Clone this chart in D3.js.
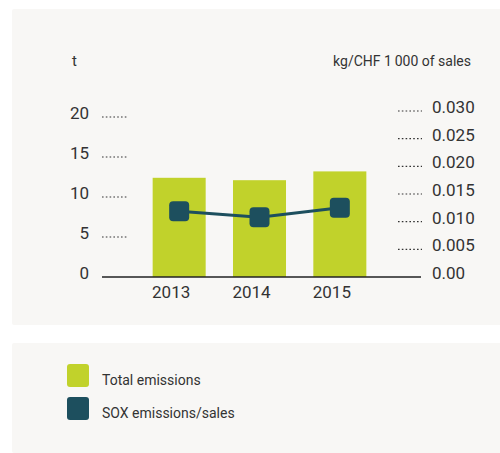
<!DOCTYPE html>
<html>
<head>
<meta charset="utf-8">
<script src="https://cdnjs.cloudflare.com/ajax/libs/d3/7.8.5/d3.min.js"></script>
<style>
  body { margin: 0; background: #ffffff; }
  svg text { font-family: Roboto, "Open Sans", sans-serif; fill: #333333; }
</style>
</head>
<body>
<div id="chart"></div>
<script>
// data
var years = ["2013", "2014", "2015"];
var totalEmissions = [12.4, 12.1, 13.2];        // t
var soxPerSales = [0.0119, 0.0108, 0.0125];     // kg/CHF 1 000 of sales
var leftTicks = [0, 5, 10, 15, 20];
var rightTicks = [0, 0.005, 0.010, 0.015, 0.020, 0.025, 0.030];
var rightTickLabels = ["0.00", "0.005", "0.010", "0.015", "0.020", "0.025", "0.030"];
var legendLabels = ["Total emissions", "SOX emissions/sales"];

var svgWidth = 500;
var svgHeight = 453;
var green = "#c1d22b";
var teal = "#1d4f5e";

var svg = d3.select("#chart")
  .append("svg")
  .attr("width", svgWidth)
  .attr("height", svgHeight);

// panels
svg.append("rect").attr("x", 12).attr("y", 9).attr("width", 500).attr("height", 316)
  .attr("rx", 2).attr("fill", "#f8f7f5");
svg.append("rect").attr("x", 12).attr("y", 343).attr("width", 500).attr("height", 110)
  .attr("rx", 2).attr("fill", "#f8f7f5");

// scales
var x = d3.scaleBand()
  .domain(years)
  .range([139, 380])
  .paddingInner(0.34)
  .paddingOuter(0.17);

var yLeft = d3.scaleLinear().domain([0, 20]).range([277, 117]);
var yRight = d3.scaleLinear().domain([0, 0.030]).range([277, 111]);

// left axis: labels + dotted guides
var leftAxis = svg.append("g");
leftAxis.selectAll("text")
  .data(leftTicks)
  .enter()
  .append("text")
  .attr("x", 89)
  .attr("y", d => yLeft(d) + 2)
  .attr("text-anchor", "end")
  .attr("font-size", "17px")
  .text(d => d);

leftAxis.selectAll("line")
  .data(leftTicks.filter(d => d > 0))
  .enter()
  .append("line")
  .attr("x1", 102)
  .attr("x2", 127)
  .attr("y1", d => yLeft(d))
  .attr("y2", d => yLeft(d))
  .attr("stroke", "#333")
  .attr("stroke-width", 1.2)
  .attr("stroke-dasharray", "1.6,2.2");

// right axis
var rightAxis = svg.append("g");
rightAxis.selectAll("text")
  .data(rightTicks)
  .enter()
  .append("text")
  .attr("x", 432)
  .attr("y", d => yRight(d) + 2)
  .attr("font-size", "17px")
  .text((d, i) => rightTickLabels[i]);

rightAxis.selectAll("line")
  .data(rightTicks.filter(d => d > 0))
  .enter()
  .append("line")
  .attr("x1", 398)
  .attr("x2", 422)
  .attr("y1", d => yRight(d))
  .attr("y2", d => yRight(d))
  .attr("stroke", "#333")
  .attr("stroke-width", 1.2)
  .attr("stroke-dasharray", "1.6,2.2");

// axis titles
svg.append("text").attr("x", 72).attr("y", 66).attr("font-size", "15px").text("t");
svg.append("text").attr("x", 471).attr("y", 66).attr("text-anchor", "end")
  .attr("font-size", "14px").text("kg/CHF 1\u2009000 of sales");

// bars
svg.append("g").selectAll("rect")
  .data(totalEmissions)
  .enter()
  .append("rect")
  .attr("x", (d, i) => x(years[i]))
  .attr("width", x.bandwidth())
  .attr("y", d => yLeft(d))
  .attr("height", d => yLeft(0) - yLeft(d))
  .attr("fill", green);

// baseline
svg.append("line")
  .attr("x1", 102).attr("x2", 421)
  .attr("y1", 277).attr("y2", 277)
  .attr("stroke", "#222").attr("stroke-width", 1.5);

// year labels
svg.append("g").selectAll("text")
  .data(years)
  .enter()
  .append("text")
  .attr("x", d => x(d) + x.bandwidth() / 2 - 8)
  .attr("y", 298)
  .attr("text-anchor", "middle")
  .attr("font-size", "17px")
  .text(d => d);

// line + markers
var line = d3.line()
  .x((d, i) => x(years[i]) + x.bandwidth() / 2)
  .y(d => yRight(d));

svg.append("path")
  .datum(soxPerSales)
  .attr("d", line)
  .attr("fill", "none")
  .attr("stroke", teal)
  .attr("stroke-width", 3);

svg.append("g").selectAll("rect")
  .data(soxPerSales)
  .enter()
  .append("rect")
  .attr("x", (d, i) => x(years[i]) + x.bandwidth() / 2 - 10)
  .attr("y", d => yRight(d) - 10)
  .attr("width", 20)
  .attr("height", 20)
  .attr("rx", 4)
  .attr("fill", teal);

// legend
var legend = svg.append("g").selectAll("g")
  .data(legendLabels)
  .enter()
  .append("g")
  .attr("transform", (d, i) => `translate(67, ${364 + i * 33})`);

legend.append("rect")
  .attr("width", 22)
  .attr("height", 23)
  .attr("rx", 3)
  .attr("fill", (d, i) => i === 0 ? green : teal);

legend.append("text")
  .attr("x", 35)
  .attr("y", 21)
  .attr("font-size", "14px")
  .text(d => d);
</script>
</body>
</html>
